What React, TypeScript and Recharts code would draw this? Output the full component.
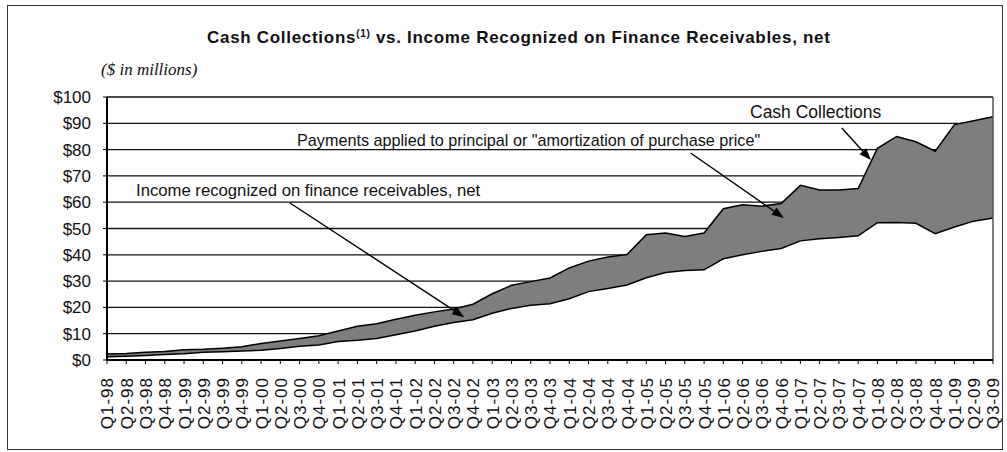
import React from "react";
import { AreaChart, Area, XAxis, YAxis, CartesianGrid, ReferenceLine } from "recharts";

const quarters = [
  "Q1-98", "Q2-98", "Q3-98", "Q4-98", "Q1-99", "Q2-99", "Q3-99", "Q4-99",
  "Q1-00", "Q2-00", "Q3-00", "Q4-00", "Q1-01", "Q2-01", "Q3-01", "Q4-01",
  "Q1-02", "Q2-02", "Q3-02", "Q4-02", "Q1-03", "Q2-03", "Q3-03", "Q4-03",
  "Q1-04", "Q2-04", "Q3-04", "Q4-04", "Q1-05", "Q2-05", "Q3-05", "Q4-05",
  "Q1-06", "Q2-06", "Q3-06", "Q4-06", "Q1-07", "Q2-07", "Q3-07", "Q4-07",
  "Q1-08", "Q2-08", "Q3-08", "Q4-08", "Q1-09", "Q2-09", "Q3-09",
];

// $ millions per quarter
const cashCollections = [
  2.3, 2.5, 2.9, 3.2, 3.9, 4.1, 4.5, 5.0,
  6.3, 7.2, 8.2, 9.2, 11.0, 12.8, 13.8, 15.5,
  17.0, 18.3, 19.4, 21.2, 25.2, 28.4, 29.8, 31.2,
  35.0, 37.6, 39.2, 40.1, 47.6, 48.3, 47.0, 48.3,
  57.5, 59.0, 58.5, 59.5, 66.4, 64.6, 64.6, 65.2,
  80.5, 85.0, 83.0, 79.4, 89.5, 91.0, 92.5,
];

const incomeRecognized = [
  1.2, 1.4, 1.7, 2.1, 2.4, 2.9, 3.1, 3.4,
  3.7, 4.4, 5.2, 5.7, 7.0, 7.5, 8.2, 9.6,
  11.0, 12.8, 14.3, 15.3, 17.8, 19.6, 20.8, 21.4,
  23.3, 26.0, 27.2, 28.5, 31.3, 33.3, 34.0, 34.3,
  38.5, 40.0, 41.3, 42.4, 45.3, 46.1, 46.6, 47.2,
  52.2, 52.3, 52.0, 48.0, 50.6, 52.8, 54.0,
];

const yTicks = [0, 10, 20, 30, 40, 50, 60, 70, 80, 90, 100];

const data = quarters.map((q, i) => ({
  idx: i,
  quarter: q,
  cash: cashCollections[i],
  income: incomeRecognized[i],
}));

const FONT = "'Liberation Sans', Arial, Helvetica, sans-serif";

const QuarterTick = ({ x, y, payload }: any) => (
  <g transform={`translate(${x},${y})`}>
    <text
      transform="rotate(-90)"
      textAnchor="end"
      dy="0.38em"
      fontSize={17}
      letterSpacing={1}
      fill="#111"
      fontFamily={FONT}
    >
      {quarters[payload.value]}
    </text>
  </g>
);

// line with a filled arrowhead at the (x2, y2) end
const Arrow = (props: any) => {
  const { x1, y1, x2, y2 } = props;
  const a = Math.atan2(y2 - y1, x2 - x1);
  const len = 12, half = 4.5;
  const bx = x2 - len * Math.cos(a);
  const by = y2 - len * Math.sin(a);
  const px = -Math.sin(a) * half, py = Math.cos(a) * half;
  return (
    <g>
      <line x1={x1} y1={y1} x2={bx} y2={by} stroke="#000" strokeWidth={1.4} />
      <polygon points={`${x2},${y2} ${bx + px},${by + py} ${bx - px},${by - py}`} fill="#000" />
    </g>
  );
};

const note = (left: number, top: number, size: number): React.CSSProperties => ({
  position: "absolute", left, top, fontSize: size, lineHeight: `${size}px`,
  whiteSpace: "nowrap", color: "#111", fontFamily: FONT, pointerEvents: "none",
});

export default function App() {
  return (
    <div style={{ position: "absolute", left: 0, top: 0, width: 1007, height: 452, background: "#fff", fontFamily: FONT }}>
      <div style={{ position: "absolute", left: 7, top: 5, width: 996, height: 445, border: "1.5px solid #333", boxSizing: "border-box" }} />

      <div style={{ ...note(207, 29, 17), fontWeight: 700, letterSpacing: 0.7 }}>
        Cash Collections<span style={{ fontSize: 10, position: "relative", top: -6 }}>(1)</span> vs. Income Recognized on Finance Receivables, net
      </div>
      <div style={{ ...note(101, 61, 17), fontFamily: "'Liberation Serif', 'Times New Roman', serif", fontStyle: "italic" }}>
        ($ in millions)
      </div>

      <AreaChart width={1007} height={452} data={data} margin={{ top: 97, right: 14, left: 47, bottom: 22 }}>
        <CartesianGrid vertical={false} stroke="#111" strokeWidth={1.3} />
        <XAxis
          dataKey="idx" type="number" domain={[0, 46]} ticks={quarters.map((_, i) => i)} interval={0}
          tick={<QuarterTick />} tickSize={4} tickMargin={13} height={70}
          axisLine={{ stroke: "#000", strokeWidth: 2 }} tickLine={{ stroke: "#000" }}
        />
        <YAxis
          type="number" domain={[0, 100]} ticks={yTicks} interval={0} width={60}
          tickFormatter={(v) => `$${v}`} tickSize={4} tickMargin={12}
          tick={{ fontSize: 17, fill: "#111", fontFamily: FONT }}
          axisLine={{ stroke: "#000", strokeWidth: 2 }} tickLine={{ stroke: "#000" }}
        />
        <Area type="linear" dataKey="cash" stroke="#000" strokeWidth={1.5} fill="#7e7e7e" fillOpacity={1}
          dot={false} activeDot={false} isAnimationActive={false} />
        <Area type="linear" dataKey="income" stroke="#000" strokeWidth={1.5} fill="#fff" fillOpacity={1}
          dot={false} activeDot={false} isAnimationActive={false} />
        <ReferenceLine x={46} stroke="#555" strokeWidth={1.5} />
        <ReferenceLine segment={[{ x: 9.5, y: 59.7 }, { x: 18.55, y: 16.3 }]} shape={Arrow} />
        <ReferenceLine segment={[{ x: 30.3, y: 78.7 }, { x: 35.14, y: 54.0 }]} shape={Arrow} />
        <ReferenceLine segment={[{ x: 38.15, y: 88.2 }, { x: 39.66, y: 76.0 }]} shape={Arrow} />
      </AreaChart>

      <div style={note(750, 104, 17.5)}>Cash Collections</div>
      <div style={note(297, 132, 16.2)}>Payments applied to principal or "amortization of purchase price"</div>
      <div style={note(136, 183, 16.7)}>Income recognized on finance receivables, net</div>
    </div>
  );
}
